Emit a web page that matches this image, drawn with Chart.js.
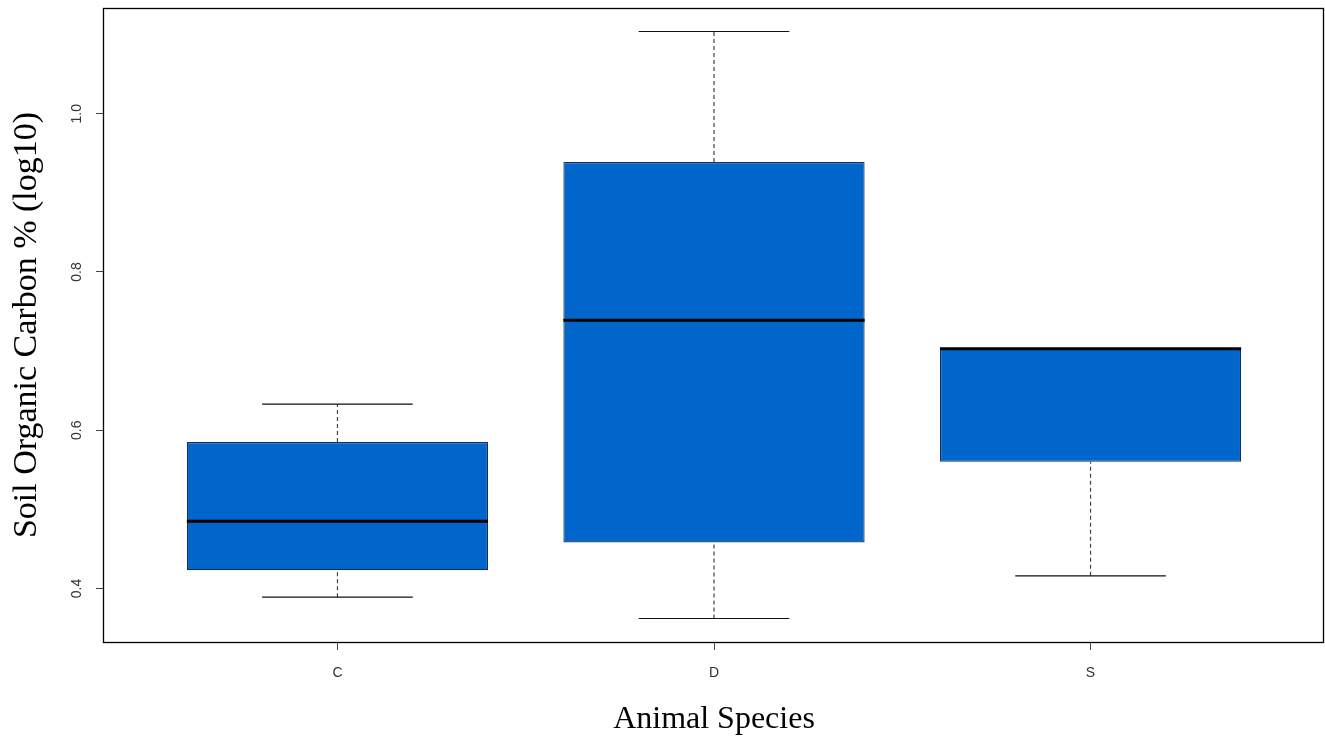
<!DOCTYPE html>
<html>
<head>
<meta charset="utf-8">
<script src="https://cdn.jsdelivr.net/npm/chart.js@4/dist/chart.umd.min.js"></script>
<style>
  html, body { margin: 0; padding: 0; background: #ffffff; }
  #wrap { width: 1325px; height: 741px; position: relative; }
</style>
</head>
<body>
<div id="wrap"><canvas id="c" width="1325" height="741"></canvas></div>
<script>
// ---- data ----
const categories = ['C', 'D', 'S'];
const whiskerLow  = [0.389, 0.362, 0.416];
const quartile1   = [0.423, 0.458, 0.560];
const medians     = [0.485, 0.739, 0.703];
const quartile3   = [0.585, 0.939, 0.703];
const whiskerHigh = [0.633, 1.104, 0.703];
const yTickValues = [0.4, 0.6, 0.8, 1.0];

// ---- derived datasets ----
const boxData = categories.map((c, i) => ({ x: i + 1, y: [quartile1[i], quartile3[i]] }));
const medianData = [], whiskerData = [], capData = [];
categories.forEach((c, i) => {
  const p = i + 1;
  medianData.push({ x: p - 0.4, y: medians[i] }, { x: p + 0.4, y: medians[i] }, { x: p + 0.45, y: null });
  whiskerData.push({ x: p, y: quartile3[i] }, { x: p, y: whiskerHigh[i] }, { x: p + 0.01, y: null },
                   { x: p, y: whiskerLow[i] }, { x: p, y: quartile1[i] }, { x: p + 0.02, y: null });
  capData.push({ x: p - 0.2, y: whiskerHigh[i] }, { x: p + 0.2, y: whiskerHigh[i] }, { x: p + 0.3, y: null },
               { x: p - 0.2, y: whiskerLow[i] }, { x: p + 0.2, y: whiskerLow[i] }, { x: p + 0.35, y: null });
});

const frame = {
  id: 'frame',
  afterDraw(chart) {
    const { ctx, chartArea: a } = chart;
    ctx.save();
    ctx.strokeStyle = '#000';
    ctx.lineWidth = 1.3;
    ctx.strokeRect(a.left - 0.5, a.top + 0.5, a.right - a.left, a.bottom - a.top);
    ctx.restore();
  }
};

new Chart(document.getElementById('c'), {
  type: 'bar',
  data: {
    datasets: [
      {
        type: 'line', data: whiskerData, borderColor: '#444', borderWidth: 1.2,
        borderDash: [4, 3], pointRadius: 0, spanGaps: false, order: 5, tension: 0
      },
      {
        type: 'line', data: capData, borderColor: '#111', borderWidth: 1.2,
        pointRadius: 0, spanGaps: false, order: 4, tension: 0
      },
      {
        type: 'bar', data: boxData, backgroundColor: '#0066CC', borderColor: '#17304f',
        borderWidth: 1.2, borderSkipped: false, barPercentage: 0.8, categoryPercentage: 1.0, order: 3
      },
      {
        type: 'line', data: medianData, borderColor: '#000', borderWidth: 3,
        pointRadius: 0, spanGaps: false, order: 1, tension: 0, borderCapStyle: 'butt'
      }
    ]
  },
  options: {
    responsive: false,
    animation: false,
    layout: { padding: { top: 8, right: 1, left: 0, bottom: 0 } },
    plugins: { legend: { display: false }, tooltip: { enabled: false } },
    scales: {
      x: {
        type: 'linear', min: 0.38, max: 3.62, offset: false,
        afterBuildTicks: s => { s.ticks = categories.map((c, i) => ({ value: i + 1 })); },
        afterFit: s => { s.height = 99; s.paddingLeft = 0; s.paddingRight = 0; },
        grid: { display: true, offset: false, drawOnChartArea: false, drawTicks: true, tickLength: 8, tickColor: '#444', tickWidth: 1 },
        border: { display: false },
        ticks: {
          callback: v => categories[Math.round(v) - 1],
          font: { family: 'Liberation Sans', size: 14 }, color: '#333', padding: 15,
          maxRotation: 0, minRotation: 0, autoSkip: false
        },
        title: {
          display: true, text: 'Animal Species',
          font: { family: 'Liberation Serif', size: 32, lineHeight: 1 }, color: '#000',
          padding: { top: 0, bottom: 5 }
        }
      },
      y: {
        type: 'linear', min: 0.3323, max: 1.1337, offset: false,
        afterBuildTicks: s => { s.ticks = yTickValues.map(v => ({ value: v })); },
        afterFit: s => { s.width = 104; s.paddingTop = 0; s.paddingBottom = 0; },
        grid: { display: true, drawOnChartArea: false, drawTicks: true, tickLength: 8, tickColor: '#444', tickWidth: 1 },
        border: { display: false },
        ticks: {
          callback: v => v.toFixed(1),
          font: { family: 'Liberation Sans', size: 14 }, color: '#333', padding: 9,
          minRotation: 90, maxRotation: 90, crossAlign: 'center', autoSkip: false
        },
        title: {
          display: true, text: 'Soil Organic Carbon % (log10)',
          font: { family: 'Liberation Serif', size: 34, lineHeight: 1 }, color: '#000',
          padding: { top: 10, bottom: 0 }
        }
      }
    }
  },
  plugins: [frame]
});
</script>
</body>
</html>
